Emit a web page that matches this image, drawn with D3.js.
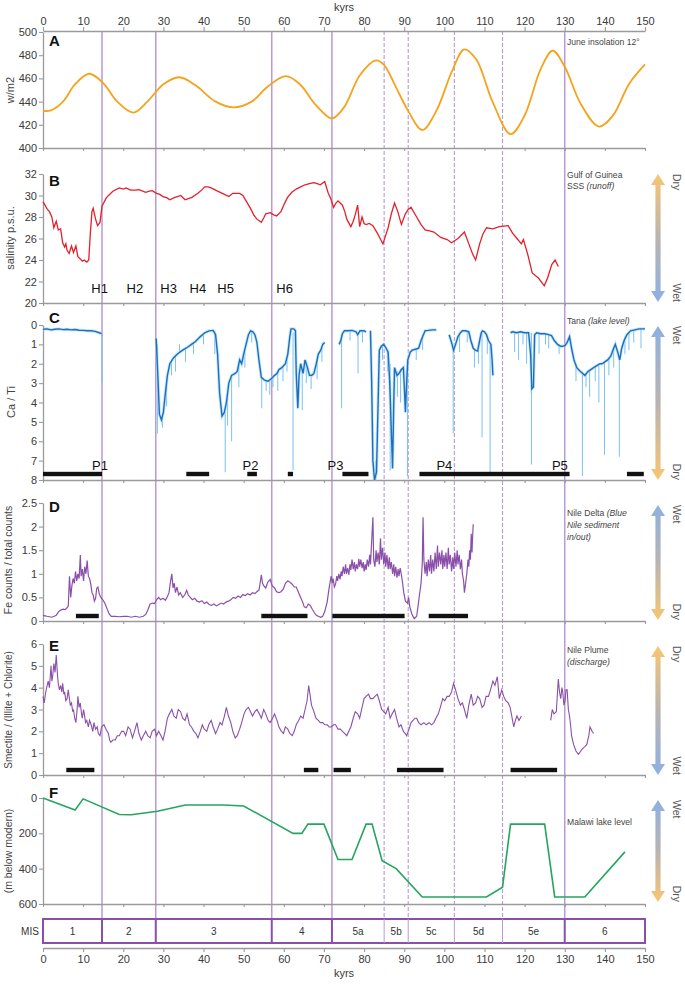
<!DOCTYPE html>
<html><head><meta charset="utf-8">
<script src="https://cdn.jsdelivr.net/npm/d3@7"></script>
<style>body{margin:0;background:#fff} svg{display:block} text{font-family:"Liberation Sans",Arial,sans-serif}</style>
</head><body><svg id="c" width="685" height="984"></svg>
<script>
// ---------------- DATA ----------------
const kyrTicks = [0,10,20,30,40,50,60,70,80,90,100,110,120,130,140,150];
const solidLines = [14.7, 28.1, 57, 72, 130];
const dashedLines = [85, 91, 102.5, 114.5];
const misLabels = ["1","2","3","4","5a","5b","5c","5d","5e","6"];
const misBounds = [0,14.7,28.1,57,72,85,91,102.5,114.5,130,150];

// A: June insolation 12°
const insolTicks = [400,420,440,460,480,500];
const insolation = [[0,432],[2,432.5],[5,440],[8,455],[11.5,464],[15,456],[18.5,440],[22.5,430.5],[26,440],[30,455],[34,461],[38,454],[43,440],[47.5,435],[52,440],[56,453],[60.5,462],[64,455],[68,437],[72,425.5],[75,435],[79,463],[83,475.5],[85,471.5],[88,452],[91,432],[94.5,415.5],[98,432],[102,467],[105,485],[108,476],[112,440],[116.5,412],[120,428],[124,468],[127,484],[130,470],[134,438],[138.5,418.5],[142,428],[146,455],[150,472]];

// B: Gulf of Guinea SSS
const sssTicks = [20,22,24,26,28,30,32];
const sss = [[0,29.4],[0.5,29.1],[1.1,28.7],[1.6,28.5],[2.2,28.0],[2.7,27.0],[3.3,27.6],[3.8,26.8],[4.4,26.9],[4.9,25.6],[5.4,25.2],[5.7,25.5],[6.0,24.9],[6.5,24.6],[7.1,25.3],[7.6,24.7],[8.2,25.3],[8.7,24.3],[9.3,24.1],[9.8,23.9],[10.3,24.0],[10.9,23.8],[11.4,24.0],[11.8,26.5],[12.2,28.5],[12.5,28.8],[13.1,27.8],[13.6,27.2],[14.2,27.5],[14.7,29.0],[15.8,29.8],[17.4,30.4],[19.0,30.7],[20.0,30.6],[20.7,30.7],[21.8,30.5],[23.0,30.5],[23.9,30.55],[25.6,30.3],[26.5,30.4],[27.2,30.45],[28.3,30.2],[29.1,30.1],[29.9,29.9],[30.8,29.8],[31.6,29.6],[32.7,29.8],[33.5,29.9],[34.3,30.0],[35.4,29.6],[36.2,29.7],[37.0,29.8],[38.6,30.2],[39.5,30.5],[40.3,30.8],[41.1,30.8],[41.9,30.7],[43.5,30.4],[45.2,30.1],[46.3,29.9],[47.3,30.2],[49.0,30.2],[49.8,30.0],[50.6,29.5],[51.7,28.8],[52.5,28.2],[53.3,27.8],[54.4,27.5],[55.0,27.9],[55.5,28.3],[56.6,28.4],[57.5,28.2],[58.2,28.1],[59.3,28.5],[60.1,29.2],[60.9,29.8],[62.0,30.3],[63.1,30.6],[64.2,30.8],[65.3,31.0],[66.4,31.1],[67.5,31.2],[68.3,31.1],[69.1,31.0],[70.2,31.3],[71.0,30.3],[71.8,29.6],[72.4,28.9],[73.0,29.3],[73.5,29.5],[74.6,29.1],[75.2,28.5],[75.7,27.8],[76.7,27.1],[77.3,27.6],[77.8,28.2],[78.4,29.1],[78.9,27.1],[79.5,28.0],[80.0,27.4],[80.5,27.3],[81.3,27.4],[82.2,27.2],[83.3,26.5],[84.0,26.0],[84.7,25.5],[85.3,26.2],[86.0,27.0],[86.8,28.3],[87.6,29.3],[88.4,28.5],[89.3,27.3],[90.3,28.3],[91.0,28.7],[91.7,28.9],[93.1,28.0],[94.2,27.3],[95.2,26.8],[96.3,26.7],[97.4,26.6],[99.1,26.1],[100.7,25.9],[101.8,25.6],[103.4,26.0],[105.0,26.6],[106.1,25.5],[107.0,24.6],[107.8,24.0],[108.8,25.5],[109.6,26.4],[110.5,27.0],[112.1,26.9],[113.7,27.1],[115.9,27.2],[117.0,26.5],[118.1,26.0],[119.2,25.5],[119.7,25.9],[120.8,24.5],[121.9,22.8],[123.5,22.3],[124.9,21.6],[125.7,22.3],[126.8,23.6],[127.6,24.0],[128.4,23.4]];
const hLabels = [["H1",14.1],["H2",22.9],["H3",31.3],["H4",38.6],["H5",45.5],["H6",60.2]];

// C: Tana Ca/Ti (null = gap)
const tanaTicks = [0,1,2,3,4,5,6,7,8];
const tana = [[0,0.22],[1,0.2],[2,0.25],[3,0.22],[4,0.2],[5,0.24],[6,0.22],[7,0.25],[8,0.23],[9,0.27],[10,0.28],[11,0.3],[12,0.3],[13,0.33],[14,0.4],[14.6,0.45],null,
[28.2,0.7],[28.6,2.5],[29,4.6],[29.5,4.9],[30,4.5],[30.5,3.5],[31,2.6],[31.6,2.0],[32.5,1.7],[33.5,1.5],[34.8,1.3],[36,1.15],[37,1.0],[38,0.85],[39.2,0.6],[40.3,0.4],[41.4,0.3],[42.4,0.28],[43,0.5],[43.5,1.5],[44,3.5],[44.6,4.7],[45.2,4.5],[45.7,4.0],[46.3,3.0],[47,2.6],[47.9,2.5],[48.4,2.4],[49,1.8],[49.5,2.0],[50,1.5],[50.6,1.0],[51.2,0.5],[51.7,0.3],[52.3,0.35],[52.8,0.5],[53.3,0.9],[53.8,1.8],[54.4,2.7],[55.2,2.85],[56.1,2.9],[57,2.75],[57.7,2.6],[58.3,2.5],[58.8,2.3],[59.5,2.2],[60.4,2.0],[61,1.5],[61.5,0.6],[61.8,0.2],[62.5,0.2],[62.9,0.3],[63.1,2.5],[63.5,4.3],[63.8,2.6],[64.2,2.0],[64.8,2.5],[65.3,1.8],[65.9,2.2],[66.4,2.6],[67,2.6],[67.5,2.5],[68.1,2.0],[68.6,1.5],[69.2,1.3],[69.7,1.0],[70.2,0.9],null,
[73.8,1.0],[74.2,0.8],[74.6,0.45],[75.1,0.3],[76,0.3],[77,0.28],[78,0.35],[78.4,0.5],[79,0.3],[80,0.3],[80.5,0.35],null,
[81.6,0.3],[81.9,3],[82.2,7.0],[82.6,8.0],[83.1,7.6],[83.5,4],[83.8,1.3],[84.3,1.1],[84.9,1.0],[85.5,1.2],[86,1.4],[86.4,3],[86.8,5.5],[87.1,7.4],[87.4,4],[87.6,2.2],[88.2,2.6],[88.7,2.5],[89.3,2.3],[89.8,2.2],[90.1,3.5],[90.3,4.5],[90.6,3],[90.9,1.8],[91.5,1.4],[92,1.3],[92.8,1.25],[93.6,1.2],[94.2,0.8],[95.2,0.3],[96,0.28],[97,0.25],[98,0.25],null,
[101.2,0.5],[101.8,0.9],[102.3,1.3],[102.8,1.0],[103.4,0.6],[104,0.4],[104.5,0.3],[105.3,0.3],[106.1,0.35],[106.6,0.8],[107.2,1.2],[107.7,1.3],[108.3,1.35],[108.8,0.8],[109.2,0.4],[109.5,0.3],[110,0.35],[110.5,0.5],[111,0.8],[111.6,1.0],[111.9,1.8],[112.1,2.6],null,
[116.5,0.4],[117,0.35],[118,0.4],[119,0.35],[120,0.4],[121,0.4],[121.5,1.5],[121.8,3.3],[122.2,3.2],[122.5,0.5],[123,0.4],[124,0.45],[125,0.45],[126,0.5],[126.7,0.55],[127.4,0.8],[128.2,1.0],[129,1.1],[129.5,1.1],[130.1,1.05],[130.6,0.9],[131.2,0.6],[131.7,1.2],[132.3,1.8],[133,2.2],[133.9,2.4],[134.5,2.5],[135,2.6],[135.8,2.4],[136.5,2.3],[137.2,2.2],[138,2.1],[138.8,2.0],[139.3,2.0],[140,1.9],[140.7,1.8],[141.5,1.6],[142,1.3],[142.6,1.0],[143.2,1.4],[143.7,1.8],[144.2,1.2],[144.8,0.8],[145.5,0.5],[146.4,0.3],[147.5,0.25],[148.5,0.2],[150,0.2]];
// light-blue spikes of raw data: [kyr, from, to]
const tanaSpikes = [[14.7,0.45,3.0],[28.5,1.0,5.6],[29.8,4.5,5.3],[30.8,2.8,4.2],[32,1.8,2.6],[33,1.6,2.4],[34,1.4,1.0],[35.5,1.2,1.9],[37.5,0.9,1.5],[40,0.5,1.0],[42.8,0.3,1.5],[45.4,4.5,7.6],[46,3.6,5.2],[47,2.6,6.0],[48.8,2.0,3.2],[50.3,1.3,2.2],[52,0.35,0.9],[54.5,2.7,4.3],[55.6,2.85,3.4],[56.5,2.9,3.6],[57.3,2.7,3.2],[58.5,2.4,3.4],[59.8,2.1,2.9],[60.8,1.7,2.4],[62.3,0.4,7.5],[64.6,2.3,4.4],[65.6,2.0,3.0],[66.8,2.5,3.3],[68.3,1.8,2.8],[69.5,1.1,1.9],[74.4,0.5,4.3],[76.5,0.3,0.8],[78.5,0.4,2.5],[79.6,0.3,0.9],[82.9,7.0,8.0],[84.6,1.0,1.8],[85.8,1.3,2.4],[86.5,2.0,7.5],[88.3,2.4,3.7],[89.1,2.3,4.0],[90.8,2.0,7.8],[93,1.2,1.8],[94.6,0.5,1.3],[102.2,1.2,5.6],[103.8,0.45,1.4],[105.7,0.3,0.9],[107.5,1.2,2.2],[108.5,1.3,2.0],[109.4,0.4,5.8],[110.7,0.6,1.5],[111.4,1.0,7.8],[117.5,0.4,1.4],[118.5,0.4,1.8],[119.6,0.4,1.0],[120.5,0.4,2.0],[121.7,0.4,7.2],[123.6,0.45,1.5],[125.2,0.45,1.0],[126,0.5,1.2],[128.6,1.0,1.5],[132.8,2.0,2.9],[134.4,2.4,7.8],[135.3,2.5,3.2],[136.2,2.3,3.7],[137.6,2.1,2.9],[138.5,2.1,4.0],[139.9,1.9,6.7],[141,1.7,2.6],[142.2,1.2,2.2],[143.6,1.6,6.8],[145,0.6,1.5],[146,0.4,1.3],[147.2,0.25,0.9],[149,0.2,1.2]];
const tanaBars = [[0,14.7],[35.7,41.4],[50.9,53.3],[61,62.3],[74.6,81.1],[93.8,131.2],[145.5,149.7]];
const pLabels = [["P1",14.2],["P2",51.7],["P3",72.9],["P4",100],["P5",128.8]];

// D: Nile Delta Fe counts / total counts
const feTicks = [0,0.5,1,1.5,2,2.5];
const fe = [[0,0.12],[0.5,0.11],[1,0.1],[1.6,0.09],[2.2,0.08],[2.8,0.1],[3.3,0.12],[3.9,0.2],[4.4,0.23],[5,0.25],[5.5,0.24],[6,0.28],[6.3,0.32],[6.6,0.95],[6.9,0.5],[7.2,0.75],[7.5,0.9],[7.8,0.8],[8.1,1.05],[8.4,0.85],[8.7,1.0],[9,0.9],[9.3,1.4],[9.5,0.95],[9.8,1.1],[10.1,0.85],[10.4,1.15],[10.7,1.0],[11,1.28],[11.3,0.95],[11.6,0.9],[11.9,0.78],[12.2,0.6],[12.5,0.55],[12.8,0.42],[13.1,0.48],[13.4,0.7],[13.7,0.72],[14,0.58],[14.4,0.5],[14.9,0.45],[15.4,0.38],[16,0.25],[16.5,0.15],[17,0.1],[18,0.1],[19,0.09],[20,0.1],[21,0.1],[22,0.08],[23,0.1],[24,0.08],[25,0.1],[25.6,0.14],[26.2,0.25],[26.7,0.36],[27.3,0.38],[27.8,0.37],[28.3,0.45],[28.8,0.5],[29.3,0.45],[29.9,0.48],[30.5,0.44],[31,0.52],[31.4,0.6],[31.8,0.85],[32.1,1.0],[32.4,0.7],[32.7,0.8],[33,0.6],[33.4,0.72],[33.8,0.55],[34.2,0.6],[34.8,0.5],[35.3,0.55],[35.8,0.65],[36.2,0.55],[36.7,0.5],[37.2,0.45],[37.8,0.48],[38.4,0.42],[39,0.4],[39.6,0.43],[40.2,0.37],[40.8,0.4],[41.4,0.35],[42,0.33],[42.6,0.36],[43.2,0.32],[43.8,0.35],[44.4,0.38],[45,0.36],[45.6,0.4],[46.2,0.42],[46.8,0.45],[47.4,0.5],[48,0.48],[48.6,0.53],[49.2,0.5],[49.8,0.56],[50.4,0.54],[51,0.58],[51.6,0.55],[52.2,0.6],[52.8,0.58],[53.4,0.63],[53.8,0.65],[54.1,0.8],[54.4,0.98],[54.7,0.8],[55,0.75],[55.5,0.7],[56,0.82],[56.6,0.88],[57.1,0.75],[57.7,0.7],[58.2,0.62],[58.8,0.6],[59.3,0.62],[59.9,0.68],[60.4,0.8],[61,0.85],[61.5,0.82],[62.1,0.78],[62.6,0.72],[63.1,0.72],[63.7,0.6],[64.2,0.5],[64.7,0.4],[65.1,0.3],[65.6,0.28],[66.1,0.36],[66.6,0.33],[67.1,0.25],[67.6,0.18],[68.1,0.12],[68.6,0.1],[69.2,0.08],[69.7,0.1],[70.2,0.2],[70.8,0.4],[71.3,0.7],[71.8,0.95],[72.1,0.8],[72.3,0.9],[72.6,0.72],[72.9,0.78],[73.2,0.95],[73.4,0.85],[73.7,1.0],[74,0.88],[74.3,1.05],[74.5,0.95],[74.8,1.15],[75.1,1.0],[75.4,1.2],[75.6,1.0],[75.9,1.12],[76.2,0.98],[76.5,1.2],[76.7,1.08],[77,1.3],[77.3,1.1],[77.6,1.25],[77.8,1.05],[78.1,1.2],[78.4,1.1],[78.7,1.32],[78.9,1.15],[79.2,1.3],[79.5,1.12],[79.8,1.25],[80,1.05],[80.3,1.2],[80.5,1.08],[80.8,1.3],[81.1,1.15],[81.4,1.4],[81.6,1.2],[81.9,1.7],[82.2,2.2],[82.4,1.3],[82.7,1.15],[83,1.5],[83.2,1.25],[83.5,1.45],[83.8,1.2],[84.1,1.75],[84.3,1.3],[84.6,1.55],[84.9,1.2],[85.2,1.45],[85.4,1.15],[85.7,1.4],[86,1.1],[86.3,1.35],[86.5,1.1],[86.8,1.25],[87.1,1.0],[87.4,1.2],[87.6,0.95],[87.9,1.15],[88.2,0.92],[88.5,1.1],[88.7,0.95],[89,1.12],[89.3,0.98],[89.6,0.8],[89.9,0.6],[90.3,0.42],[90.8,0.38],[91.1,0.5],[91.4,0.3],[91.9,0.15],[92.5,0.05],[93.1,0.1],[93.5,0.35],[93.8,0.55],[94.2,0.8],[94.5,1.2],[94.7,2.2],[94.9,1.3],[95.2,1.0],[95.5,1.25],[95.7,0.95],[96,1.3],[96.3,1.05],[96.6,1.4],[96.8,1.0],[97.1,1.3],[97.4,1.05],[97.7,1.45],[98,1.1],[98.3,1.6],[98.5,1.15],[98.8,1.45],[99.1,1.2],[99.4,1.5],[99.6,1.1],[99.9,1.4],[100.1,1.15],[100.4,1.45],[100.7,1.1],[101,1.55],[101.2,1.2],[101.5,1.4],[101.8,1.05],[102.1,1.35],[102.3,1.1],[102.6,1.45],[102.9,1.15],[103.2,1.5],[103.4,1.2],[103.7,1.4],[104,1.1],[104.3,1.3],[104.5,1.0],[104.8,0.85],[105,0.6],[105.3,0.8],[105.6,1.0],[105.9,1.3],[106.1,1.15],[106.3,1.5],[106.5,1.3],[106.7,1.85],[106.9,1.45],[107.0,1.7],[107.2,2.05]];
const feBars = [[8.2,13.9],[54.4,65.9],[72.1,90.1],[96.1,105.9]];

// E: Nile Plume smectite / (illite + chlorite)
const smecTicks = [0,1,2,3,4,5,6];
const smec = [[0,3.6],[0.3,3.3],[0.6,3.7],[0.9,4.0],[1.3,4.3],[1.6,4.0],[2,5.0],[2.2,4.3],[2.4,4.5],[2.7,5.1],[3,4.7],[3.3,5.5],[3.6,4.6],[3.8,4.2],[4.1,3.9],[4.4,4.1],[4.7,3.8],[4.9,4.2],[5.2,3.7],[5.4,3.8],[5.7,3.4],[6,3.5],[6.3,3.9],[6.5,3.6],[6.8,3.2],[7.1,3.3],[7.4,2.9],[7.6,3.0],[7.9,2.6],[8.2,2.4],[8.5,3.0],[8.7,3.6],[9,3.1],[9.3,3.3],[9.6,2.8],[9.8,2.6],[10.1,3.0],[10.3,2.8],[10.6,2.4],[10.9,2.5],[11.3,2.2],[11.6,2.5],[12,2.3],[12.4,2.0],[12.7,2.4],[13.1,2.1],[13.5,2.2],[13.8,1.9],[14.2,1.8],[14.6,2.2],[15.2,2.3],[15.7,2.1],[16.3,1.9],[16.6,1.6],[16.9,1.5],[17.4,1.6],[18,1.6],[18.5,1.8],[19,1.8],[19.6,2.0],[20.1,2.0],[20.6,1.8],[21.2,2.2],[21.7,2.1],[22.3,1.7],[22.8,2.0],[23.4,2.4],[23.9,1.9],[24.5,1.6],[25,1.8],[25.6,2.0],[26.1,1.8],[26.7,1.7],[27.2,2.0],[27.8,2.1],[28.3,1.8],[28.8,2.0],[29.4,1.8],[29.9,1.6],[30.4,2.0],[31,2.6],[31.5,2.8],[32.1,3.0],[32.6,2.7],[33.2,2.6],[33.7,3.0],[34.3,2.9],[34.8,2.6],[35.4,2.5],[35.9,2.8],[36.5,2.3],[37,2.2],[37.6,2.0],[38.1,1.9],[38.6,1.7],[39.2,2.0],[39.7,2.3],[40.2,2.1],[40.8,2.0],[41.3,2.3],[41.9,2.5],[42.4,2.2],[43,1.9],[43.5,2.1],[44.1,2.4],[44.6,2.3],[45.2,2.7],[45.7,3.1],[46.2,2.7],[46.8,2.4],[47.3,2.0],[47.9,1.7],[48.4,1.8],[49,2.1],[49.5,2.4],[50.1,2.8],[50.6,3.0],[51.2,3.1],[51.7,2.9],[52.2,2.7],[52.8,2.9],[53.3,3.0],[53.9,2.8],[54.4,2.6],[55,3.0],[55.5,2.8],[56.1,2.5],[56.6,2.4],[57.2,2.6],[57.7,2.8],[58.3,2.5],[58.8,2.2],[59.4,2.0],[59.9,1.9],[60.4,2.2],[61,2.1],[61.5,1.9],[62.1,1.8],[62.6,2.0],[63.1,2.3],[63.7,2.5],[64.2,2.7],[64.8,2.6],[65.3,3.0],[65.8,3.4],[66.2,4.1],[66.6,3.6],[66.9,3.2],[67.5,2.9],[68,2.6],[68.6,2.5],[69.1,2.4],[69.7,2.4],[70.2,2.3],[70.8,2.3],[71.3,2.2],[71.8,2.2],[72.4,2.3],[72.9,2.3],[73.5,2.1],[74.1,2.1],[74.6,2.0],[75.2,1.9],[75.7,1.8],[76.2,2.0],[76.7,2.2],[77.3,2.6],[77.8,2.9],[78.4,2.8],[78.9,2.6],[79.5,3.1],[80,3.5],[80.5,3.6],[81.1,3.7],[81.6,3.5],[82.2,3.5],[82.7,3.6],[83.3,3.7],[83.8,3.4],[84.4,3.0],[84.9,2.9],[85.4,2.8],[86,3.1],[86.5,2.6],[87,2.8],[87.6,3.0],[88.1,2.6],[88.7,2.2],[89.2,2.3],[89.8,2.0],[90.3,1.9],[90.6,1.8],[91.2,2.1],[91.7,2.4],[92.2,2.5],[92.7,2.6],[93.1,2.6],[93.6,2.4],[94.2,2.3],[94.9,2.4],[95.5,2.3],[96.2,2.4],[96.8,2.3],[97.4,2.4],[97.9,2.6],[98.5,2.8],[99,3.1],[99.6,3.5],[100.1,3.4],[100.7,3.6],[101.2,3.6],[101.8,3.8],[102.3,4.2],[102.8,3.9],[103.4,3.5],[104,3.2],[104.5,3.3],[105,3.0],[105.6,2.6],[106.1,3.2],[106.7,3.7],[107.2,3.2],[107.8,3.3],[108.3,3.6],[108.8,3.5],[109.4,3.1],[109.9,3.2],[110.4,3.6],[111,3.6],[111.5,3.9],[112.1,4.3],[112.6,4.1],[113.2,4.5],[113.7,3.5],[114.3,3.9],[114.8,3.6],[115.3,3.4],[115.9,3.3],[116.4,3.1],[116.9,2.6],[117.3,2.2],[117.7,2.5],[118.1,2.7],[118.6,2.5],[119.2,2.7],null,
[126.5,2.5],[126.9,3.0],[127.3,2.8],[127.9,2.9],[128.4,4.4],[128.7,3.8],[129,3.5],[129.3,4.0],[129.5,3.8],[129.8,3.2],[130.1,3.4],[130.3,3.9],[130.6,3.9],[130.9,3.0],[131.2,2.7],[131.5,2.2],[131.7,1.8],[132.2,1.4],[132.8,1.1],[133.4,0.95],[134,1.1],[134.4,1.2],[135,1.3],[135.5,1.4],[136,1.8],[136.3,2.2],[136.8,2.0],[137.2,1.9]];
const smecBars = [[5.8,12.8],[65,68.6],[72.4,76.7],[88.2,99.8],[116.5,128.1]];

// F: Malawi lake level
const malawiTicks = [0,200,400,600];
const malawi = [[0,0],[8,68],[10,5],[19,93],[22,95],[28.5,75],[35.5,40],[45,40],[50,45],[62.3,200],[64.5,200],[66,148],[70,148],[73.5,348],[77,348],[80.5,148],[82,148],[84.5,355],[88,400],[94.5,560],[110.5,560],[114.5,505],[116.5,148],[125,148],[127.5,560],[135,560],[145,305]];

// ---------------- LAYOUT / STYLE ----------------
const svg = d3.select("#c");
const X0 = 43, X1 = 645;
const x = d3.scaleLinear([0,150],[X0,X1]);
const axisCol = "#9a9a9a", txtCol = "#3a3a3a", vlineCol = "#bb98d6", misCol = "#8b4fab";

const yA = d3.scaleLinear([400,500],[148,32]);
const yB = d3.scaleLinear([20,32],[303,174]);
const yC = d3.scaleLinear([0,8],[325,480]);
const yD = d3.scaleLinear([0,2.5],[621,503]);
const yE = d3.scaleLinear([0,6],[775,644]);
const yF = d3.scaleLinear([0,600],[798,904]);

const defs = svg.append("defs");

// vertical marker lines (behind data)
const vl = svg.append("g");
vl.selectAll("line.s").data(solidLines).join("line")
  .attr("x1",d=>x(d)).attr("x2",d=>x(d)).attr("y1",31).attr("y2",919)
  .attr("stroke",vlineCol).attr("stroke-width",1.5);
vl.selectAll("line.d").data(dashedLines).join("line")
  .attr("x1",d=>x(d)).attr("x2",d=>x(d)).attr("y1",31).attr("y2",919)
  .attr("stroke",vlineCol).attr("stroke-width",1.1).attr("stroke-dasharray","4,2");

function styleAxis(g, fs){
  g.selectAll(".domain").attr("stroke",axisCol).attr("stroke-width",1.3);
  g.selectAll(".tick line").attr("stroke",axisCol).attr("stroke-width",1.1);
  g.selectAll(".tick text").attr("fill",txtCol).style("font-size",(fs||11)+"px").style("font-family","Liberation Sans, Arial, sans-serif");
}

function panel(y, ticks, fmt, bottomY){
  const gy = svg.append("g").attr("transform",`translate(${X0},0)`)
    .call(d3.axisLeft(y).tickValues(ticks).tickFormat(fmt).tickSize(4).tickSizeOuter(0).tickPadding(2));
  styleAxis(gy);
  const gx = svg.append("g").attr("transform",`translate(0,${bottomY})`)
    .call(d3.axisBottom(x).tickValues(kyrTicks).tickFormat("").tickSize(3).tickSizeOuter(0));
  styleAxis(gx);
}
panel(yA, insolTicks, d3.format("d"), 148);
panel(yB, sssTicks, d3.format("d"), 303);
panel(yC, tanaTicks, d3.format("d"), 480);
panel(yD, feTicks, d=>String(d), 621);
panel(yE, smecTicks, d3.format("d"), 775);
panel(yF, malawiTicks, d3.format("d"), 904);

// top axis
const gt = svg.append("g").attr("transform","translate(0,31)")
  .call(d3.axisTop(x).tickValues(kyrTicks).tickSize(4).tickSizeOuter(0).tickPadding(2));
styleAxis(gt);
svg.append("text").attr("x",(X0+X1)/2).attr("y",11).attr("text-anchor","middle").attr("fill",txtCol).style("font-size","11px").text("kyrs");

// bottom axis
const gb = svg.append("g").attr("transform","translate(0,948)")
  .call(d3.axisBottom(x).tickValues(kyrTicks).tickSize(4).tickSizeOuter(0).tickPadding(3));
styleAxis(gb);
svg.append("text").attr("x",(X0+X1)/2).attr("y",977).attr("text-anchor","middle").attr("fill",txtCol).style("font-size","11px").text("kyrs");

// lines
const line = (y)=>d3.line().defined(d=>d!==null).x(d=>x(d[0])).y(d=>y(d[1]));
svg.append("path").datum(insolation).attr("d",line(yA).curve(d3.curveCatmullRom)).attr("fill","none").attr("stroke","#f5a31c").attr("stroke-width",1.8);
svg.append("path").datum(sss).attr("d",line(yB)).attr("fill","none").attr("stroke","#e3202b").attr("stroke-width",1.3);

// Tana
svg.append("g").selectAll("line").data(tanaSpikes).join("line")
  .attr("x1",d=>x(d[0])).attr("x2",d=>x(d[0])).attr("y1",d=>yC(d[1])).attr("y2",d=>yC(d[2]))
  .attr("stroke","#7cc0ee").attr("stroke-width",1);
svg.append("path").datum(tana).attr("d",line(yC)).attr("fill","none").attr("stroke","#a6d5f4").attr("stroke-width",3.2).attr("opacity",0.6);
svg.append("path").datum(tana).attr("d",line(yC)).attr("fill","none").attr("stroke","#1a6fc0").attr("stroke-width",1.4);

svg.append("path").datum(fe).attr("d",line(yD)).attr("fill","none").attr("stroke","#8a50a9").attr("stroke-width",1.2);
svg.append("path").datum(smec).attr("d",line(yE)).attr("fill","none").attr("stroke","#8a50a9").attr("stroke-width",1.1);
svg.append("path").datum(malawi).attr("d",line(yF)).attr("fill","none").attr("stroke","#25a55e").attr("stroke-width",1.6);

// black bars
function bars(data, yc){
  svg.append("g").selectAll("rect").data(data).join("rect")
    .attr("x",d=>x(d[0])).attr("width",d=>x(d[1])-x(d[0])).attr("y",yc-2.2).attr("height",4.4).attr("fill","#111");
}
bars(tanaBars, 474); bars(feBars, 616); bars(smecBars, 770);

// H & P labels
svg.append("g").selectAll("text").data(hLabels).join("text")
  .attr("x",d=>x(d[1])).attr("y",293).attr("text-anchor","middle").attr("fill","#111").style("font-size","13px").text(d=>d[0]);
svg.append("g").selectAll("text").data(pLabels).join("text")
  .attr("x",d=>x(d[1])).attr("y",470).attr("text-anchor","middle").attr("fill","#111").style("font-size","13px").text(d=>d[0]);

// panel letters
[["A",46],["B",186],["C",323],["D",512],["E",651],["F",798]].forEach(([t,yy])=>{
  svg.append("text").attr("x",49).attr("y",yy).attr("fill","#111").style("font-size","15px").style("font-weight","bold").text(t);
});

// titles
function title(lines, yy, lh){
  const t = svg.append("text").attr("x",567).attr("y",yy).attr("fill","#444").style("font-size","8.6px");
  lines.forEach((ln,i)=>{
    const ts = t.append("tspan").attr("x",567).attr("dy", i===0?0:lh);
    ln.forEach(([s,it])=>{ ts.append("tspan").style("font-style",it?"italic":"normal").text(s); });
  });
}
title([[["June insolation 12°",false]]], 45, 11);
title([[["Gulf of Guinea",false]],[["SSS ",false],["(runoff)",true]]], 178, 11);
title([[["Tana ",false],["(lake level)",true]]], 324, 11);
title([[["Nile Delta ",false],["(Blue",true]],[["Nile sediment",true]],[["in/out)",true]]], 516, 12);
title([[["Nile Plume",false]],[["(discharge)",true]]], 653, 12);
title([[["Malawi lake level",false]]], 825, 11);

// y axis titles
function ytitle(t, xx, yy, fs){
  svg.append("text").attr("transform",`translate(${xx},${yy}) rotate(-90)`).attr("text-anchor","middle")
    .attr("fill","#444").style("font-size",(fs||11)+"px").text(t);
}
ytitle("w/m2", 14, 90);
ytitle("salinity p.s.u.", 14, 238);
ytitle("Ca / Ti", 15, 402);
ytitle("Fe counts / total counts", 12, 560, 10.5);
ytitle("Smectite / (Illite + Chlorite)", 12, 710, 10);
ytitle("(m below modern)", 12, 851, 10.5);

// arrows
const ORANGE = "#f8c572", BLUE = "#8eb0e2";
let gid = 0;
function arrow(top, bottom, topWord){
  const id = "g"+(gid++);
  const topC = topWord==="Dry"?ORANGE:BLUE, botC = topWord==="Dry"?BLUE:ORANGE;
  const lg = defs.append("linearGradient").attr("id",id).attr("gradientUnits","userSpaceOnUse")
    .attr("x1",0).attr("x2",0).attr("y1",top).attr("y2",bottom);
  lg.append("stop").attr("offset","0%").attr("stop-color",topC);
  lg.append("stop").attr("offset","50%").attr("stop-color","#b9b4b0");
  lg.append("stop").attr("offset","100%").attr("stop-color",botC);
  const cx = 658, hw = 7, sw = 2.6, hh = 11;
  const p = [[cx,top],[cx+hw,top+hh],[cx+sw,top+hh],[cx+sw,bottom-hh],[cx+hw,bottom-hh],[cx,bottom],[cx-hw,bottom-hh],[cx-sw,bottom-hh],[cx-sw,top+hh],[cx-hw,top+hh]];
  svg.append("path").attr("d","M"+p.map(d=>d.join(",")).join("L")+"Z").attr("fill",`url(#${id})`);
  const botWord = topWord==="Dry"?"Wet":"Dry";
  svg.append("text").attr("transform",`translate(673,${top}) rotate(90)`).attr("text-anchor","start")
    .attr("fill","#555").style("font-size","10.5px").text(topWord);
  svg.append("text").attr("transform",`translate(673,${bottom}) rotate(90)`).attr("text-anchor","end")
    .attr("fill","#555").style("font-size","10.5px").text(botWord);
}
arrow(174, 302, "Dry");
arrow(326, 480, "Wet");
arrow(505, 620, "Wet");
arrow(646, 775, "Dry");
arrow(800, 902, "Wet");

// MIS box
const mis = svg.append("g");
mis.append("rect").attr("x",X0).attr("y",919).attr("width",X1-X0).attr("height",24)
  .attr("fill","none").attr("stroke",misCol).attr("stroke-width",2);
mis.selectAll("line.s").data(solidLines).join("line")
  .attr("x1",d=>x(d)).attr("x2",d=>x(d)).attr("y1",919).attr("y2",943).attr("stroke",misCol).attr("stroke-width",2);
mis.selectAll("line.d").data(dashedLines).join("line")
  .attr("x1",d=>x(d)).attr("x2",d=>x(d)).attr("y1",919).attr("y2",943).attr("stroke",vlineCol).attr("stroke-width",1);
mis.selectAll("text.l").data(misLabels).join("text")
  .attr("x",(d,i)=>(x(misBounds[i])+x(misBounds[i+1]))/2).attr("y",935).attr("text-anchor","middle")
  .attr("fill","#333").style("font-size","10px").text(d=>d);
svg.append("text").attr("x",30).attr("y",935).attr("text-anchor","middle").attr("fill","#333").style("font-size","10px").text("MIS");
</script></body></html>
